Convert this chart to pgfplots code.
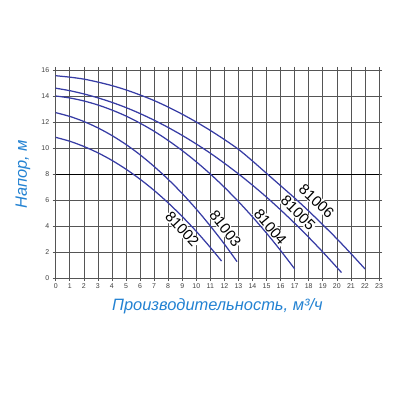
\documentclass[border=0pt]{standalone}
\usepackage{fontspec}
\setmainfont{Liberation Sans}
\usepackage{pgfplots}
\pgfplotsset{compat=1.18}
\definecolor{curve}{RGB}{55,60,165}
\definecolor{lbl}{RGB}{35,130,210}
\definecolor{gridc}{RGB}{85,85,85}
\pgfplotsset{pump/.style={curve, line width=1.25pt, smooth, mark=none}}

\begin{document}
\begin{tikzpicture}
\useasboundingbox (-55.7bp,-122bp) rectangle (344.3bp,278bp);
\begin{axis}[
  at={(0,0)}, anchor=south west,
  scale only axis, width=323.3bp, height=208bp,
  xmin=0, xmax=23, ymin=0, ymax=16,
  xtick={0,...,23}, ytick={0,2,...,16},
  grid=major, grid style={gridc, line width=0.6pt},
  axis line style={gridc, line width=0.7pt},
  tick style={gridc, line width=0.6pt},
  tick align=outside, major tick length=3bp,
  extra y ticks={8}, extra y tick labels={},
  extra y tick style={grid style={black, line width=0.9pt}},
  ticklabel style={font=\fontsize{7}{8}\selectfont, text=black!75},
  /pgf/number format/assume math mode=true,
  xticklabel style={yshift=1bp},
  xlabel={Производительность, м³/ч},
  ylabel={Напор, м},
  label style={font=\fontsize{16.5}{18}\selectfont\itshape, text=lbl},
  xlabel style={at={(axis description cs:0.5,-0.135)}, anchor=center},
  ylabel style={at={(axis description cs:-0.101,0.5)}, anchor=center},
  clip=false,
]
% 81006
\addplot[pump] coordinates {(0,15.56)(1,15.45)(2,15.3)(3,15.07)(4,14.8)(5,14.47)(6,14.08)(7,13.65)(8,13.15)(9,12.6)(10,12.0)(11,11.35)(12,10.65)(13,9.9)(14,9.0)(15,8.05)(16,7.1)(17,6.15)(18,5.15)(19,4.1)(20,3.02)(21,1.88)(22,0.7)};
% 81005
\addplot[pump] coordinates {(0,14.6)(1,14.41)(2,14.16)(3,13.86)(4,13.51)(5,13.11)(6,12.65)(7,12.14)(8,11.58)(9,10.97)(10,10.31)(11,9.6)(12,8.83)(13,8.01)(14,7.14)(15,6.22)(16,5.24)(17,4.21)(18,3.13)(19,2.0)(20,0.82)(20.33,0.42)};
% 81004
\addplot[pump] coordinates {(0,14.0)(1,13.85)(2,13.62)(3,13.31)(4,12.92)(5,12.46)(6,11.91)(7,11.29)(8,10.58)(9,9.8)(10,8.94)(11,8.0)(12,6.98)(13,5.88)(14,4.7)(15,3.45)(16,2.11)(17,0.7)};
% 81003
\addplot[pump] coordinates {(0,12.72)(1,12.43)(2,12.04)(3,11.55)(4,10.96)(5,10.27)(6,9.48)(7,8.58)(8,7.59)(9,6.5)(10,5.3)(11,4.0)(12,2.61)(12.9,1.26)};
% 81002
\addplot[pump] coordinates {(0,10.82)(1,10.52)(2,10.12)(3,9.63)(4,9.05)(5,8.37)(6,7.6)(7,6.74)(8,5.78)(9,4.73)(10,3.59)(11,2.35)(11.8,1.3)};

\begin{scope}[every node/.style={fill=white, inner sep=0.5pt, font=\fontsize{15}{15}\selectfont}]
\node[rotate=-47] at (axis cs:9.0,3.75) {81002};
\node[rotate=-52] at (axis cs:12.07,3.8) {81003};
\node[rotate=-50] at (axis cs:15.27,3.92) {81004};
\node[rotate=-45] at (axis cs:17.25,5.0) {81005};
\node[rotate=-43] at (axis cs:18.56,5.9) {81006};
\end{scope}
\end{axis}
\end{tikzpicture}
\end{document}
